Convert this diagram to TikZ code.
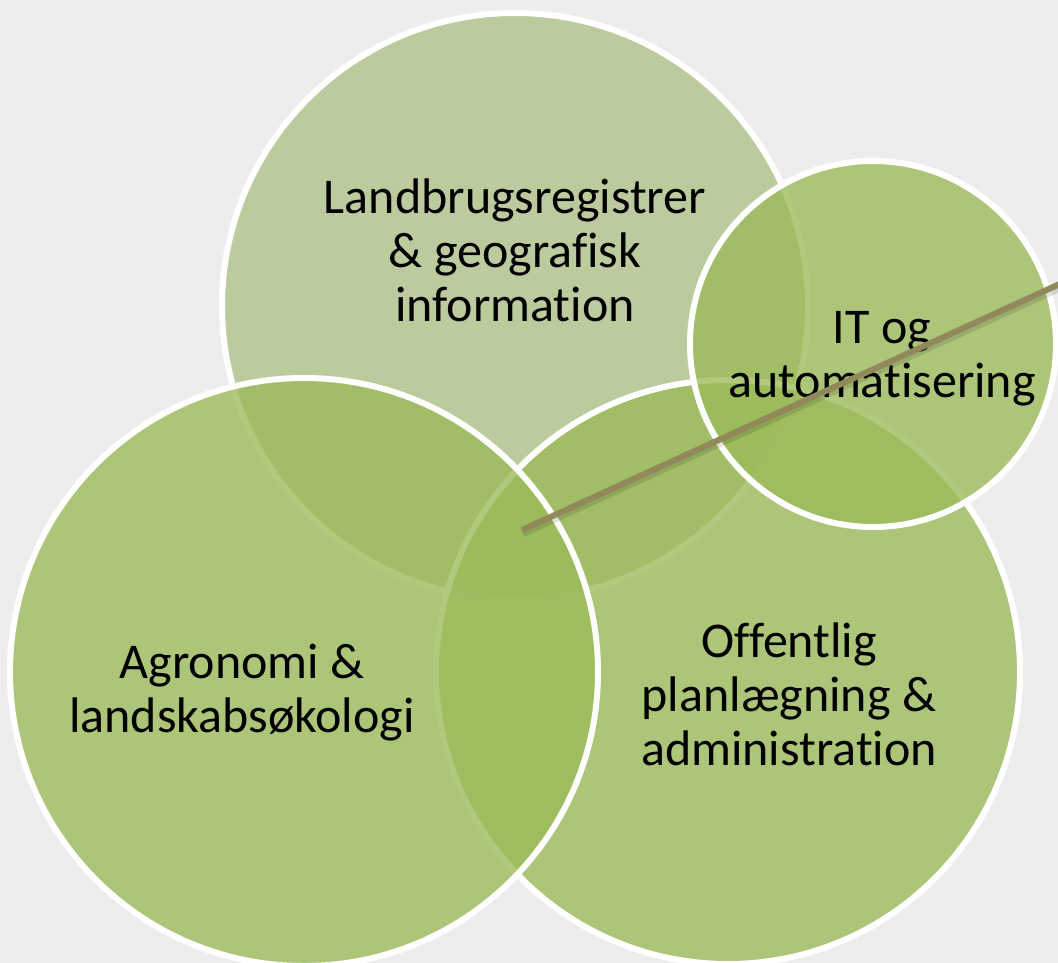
\documentclass[tikz,border=0pt]{standalone}
\usepackage{fontspec}
\setmainfont[Ligatures=NoCommon]{Carlito}
\definecolor{fond}{RGB}{237,237,237}
\definecolor{vert}{RGB}{155,187,89}
\definecolor{vertpale}{RGB}{174,194,137}
\definecolor{tige}{RGB}{146,137,90}
\begin{document}
\begin{tikzpicture}[x=1pt,y=-1pt]
\tikzset{rond/.style={circle, draw=white, line width=6pt, fill=vert, fill opacity=0.79, draw opacity=1, inner sep=0pt}}
\tikzset{etiquette/.style={align=center, font=\fontsize{50}{54}\selectfont, text=black}}
\useasboundingbox (0,0) rectangle (1058,963);
\clip (0,0) rectangle (1058,963);
\fill[fond] (0,0) rectangle (1058,963);
\node[rond, fill=vertpale, minimum size=586pt] (registre) at (515,306) {};
\node[rond, minimum size=584pt] (offentlig) at (728,672) {};
\node[rond, minimum size=588pt] (agronomi) at (304,672) {};
\node[rond, minimum size=366pt] (it) at (873,344) {};
\node[etiquette] (tregistre) at (515,250) {Landbrugsregistrer\\\& geografisk\\information};
\node[etiquette] (tagronomi) at (242,693) {Agronomi \&\\landskabsøkologi};
\node[etiquette] (toffentlig) at (789,694) {Offentlig\\planlægning \&\\administration};
\node[etiquette] (tit) at (882,359) {IT og\\automatisering};
\coordinate (pointe) at (522,530);
\coordinate (bout) at (1075,277);
\draw[tige, line width=6pt, preaction={draw, black, opacity=0.12, line width=8pt, transform canvas={shift={(1pt,-3pt)}}}] (pointe) -- (bout);
\end{tikzpicture}
\end{document}
